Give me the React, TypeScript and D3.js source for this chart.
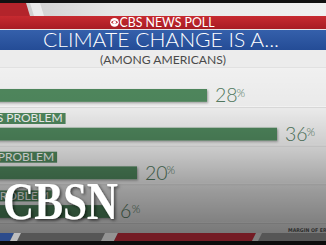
import React, { useLayoutEffect, useRef, useState } from "react";
import * as d3 from "d3";

const W = 326;
const H = 245;

const categories = ["CRISIS", "SERIOUS PROBLEM", "MINOR PROBLEM", "NOT A PROBLEM"];
const values = [28, 36, 20, 6];
const valueSuffix = "%";
const headerKicker = "CBS NEWS POLL";
const title = "CLIMATE CHANGE IS A...";
const subtitle = "(AMONG AMERICANS)";
const footnote = "MARGIN OF ERROR ±3 PTS";
const logoText = "CBSN";

export default function App() {
  const rowTop0 = 68.3;
  const rowStep = 38.7;
  const y = d3
    .scaleBand<number>()
    .domain(d3.range(categories.length))
    .range([rowTop0, rowTop0 + rowStep * categories.length])
    .paddingInner(0)
    .paddingOuter(0);

  // the broadcast graphic's bar lengths (non-uniform for the smallest bar)
  const x = d3.scaleLinear().domain([6, 20, 36]).range([112, 137, 277]);
  const barStart = -60;
  const labelStart = -46;

  const labelRefs = useRef<(SVGTextElement | null)[]>([]);
  const [labelW, setLabelW] = useState<number[]>(categories.map((c) => c.length * 7));
  useLayoutEffect(() => {
    const ws = labelRefs.current.map((el, i) =>
      el ? el.getComputedTextLength() : categories[i].length * 7
    );
    setLabelW(ws);
  }, []);

  const font = "Lato, 'Open Sans', sans-serif";

  return (
    <svg
      width={W}
      height={H}
      viewBox={`0 0 ${W} ${H}`}
      style={{ position: "absolute", left: 0, top: 0, display: "block" }}
    >
      <defs>
        <linearGradient id="topBand" x1="0" x2="1" y1="0" y2="0">
          <stop offset="0" stopColor="#c9c9c9" />
          <stop offset="0.35" stopColor="#e6e6e6" />
          <stop offset="1" stopColor="#f0f0f0" />
        </linearGradient>
        <linearGradient id="redBand" x1="0" x2="0" y1="0" y2="1">
          <stop offset="0" stopColor="#c72a30" />
          <stop offset="1" stopColor="#a81c24" />
        </linearGradient>
        <linearGradient id="blueBand" x1="0" x2="0" y1="0" y2="1">
          <stop offset="0" stopColor="#3560ab" />
          <stop offset="1" stopColor="#244c96" />
        </linearGradient>
        <linearGradient id="bodyShade" x1="0" x2="0" y1="0" y2="1">
          <stop offset="0" stopColor="#000" stopOpacity="0" />
          <stop offset="0.25" stopColor="#000" stopOpacity="0.03" />
          <stop offset="0.5" stopColor="#000" stopOpacity="0.17" />
          <stop offset="0.75" stopColor="#000" stopOpacity="0.36" />
          <stop offset="1" stopColor="#000" stopOpacity="0.5" />
        </linearGradient>
        <filter id="barShadow" x="-10%" y="-30%" width="120%" height="180%">
          <feDropShadow dx="1" dy="1.2" stdDeviation="0.9" floodColor="#000" floodOpacity="0.35" />
        </filter>
        <filter id="logoShadow" x="-10%" y="-20%" width="130%" height="150%">
          <feDropShadow dx="1.5" dy="1.5" stdDeviation="1.5" floodColor="#000" floodOpacity="0.6" />
        </filter>
      </defs>

      {/* top strip */}
      <rect x={0} y={0} width={W} height={3} fill="#111" />
      <rect x={0} y={3} width={W} height={13} fill="url(#topBand)" />
      <path d="M0,3 L26,3 L30,16 L0,16 Z" fill="#b3242b" />
      <path d="M30,3 L40,3 L44,16 L34,16 Z" fill="#f7f7f7" opacity={0.7} />

      {/* red kicker band */}
      <rect x={0} y={16} width={W} height={13} fill="url(#redBand)" />
      <rect x={0} y={29} width={W} height={1} fill="#e8e8e8" />
      <g transform="translate(114.5,22.3)">
        <circle r={4.4} fill="#fff" />
        <path d="M-3.6,0 Q0,-3.4 3.6,0 Q0,3.4 -3.6,0 Z" fill="#b9232a" />
        <circle r={1.6} fill="#fff" />
      </g>
      <text
        x={119.5}
        y={27.2}
        fill="#fff"
        fontFamily={font}
        fontSize={12.5}
        textLength={95}
        lengthAdjust="spacingAndGlyphs"
      >
        {headerKicker}
      </text>

      {/* blue title band */}
      <rect x={0} y={30} width={W} height={20} fill="url(#blueBand)" />
      <text
        x={161}
        y={47}
        fill="#fff"
        textAnchor="middle"
        fontFamily={font}
        fontWeight={300}
        fontSize={19.5}
        textLength={236}
        lengthAdjust="spacingAndGlyphs"
      >
        {title}
      </text>

      {/* subtitle band */}
      <rect x={0} y={50} width={W} height={18} fill="#ececec" />
      <text
        x={163}
        y={63.5}
        fill="#4a4a4a"
        textAnchor="middle"
        fontFamily={font}
        fontSize={11.5}
        textLength={126}
        lengthAdjust="spacingAndGlyphs"
      >
        {subtitle}
      </text>
      <rect x={0} y={67.5} width={W} height={0.8} fill="#d6d6d6" />

      {/* chart body */}
      <rect x={0} y={68.3} width={W} height={H - 68.3} fill="#f0f0f0" />

      {categories.map((c, i) => {
        const top = y(i) as number;
        const v = values[i];
        const end = x(v);
        const numX = end + 8;
        const digits = String(v).length;
        return (
          <g key={c}>
            <rect
              x={barStart}
              y={top + 20.7}
              width={end - barStart}
              height={12.8}
              fill="#4f875d"
              filter="url(#barShadow)"
            />
            <rect
              x={labelStart - 3}
              y={top + 6}
              width={labelW[i] + 6}
              height={11}
              fill="#4f875d"
            />
            <text
              ref={(el) => {
                labelRefs.current[i] = el;
              }}
              x={labelStart}
              y={top + 15.4}
              fill="#f4f4f4"
              fontFamily={font}
              fontSize={12}
            >
              {c}
            </text>
            <text
              x={numX}
              y={top + 33.8}
              fill="#527a60"
              fontFamily={font}
              fontWeight={300}
              fontSize={19.5}
            >
              {v}
            </text>
            <text
              x={numX + digits * 9.8 + 2}
              y={top + 28.5}
              fill="#527a60"
              fontFamily={font}
              fontWeight={300}
              fontSize={11}
            >
              {valueSuffix}
            </text>
            <rect x={0} y={top + rowStep - 1} width={W} height={1} fill="#ffffff" opacity={0.55} />
            <rect x={0} y={top + rowStep} width={W} height={0.8} fill="#000" opacity={0.1} />
          </g>
        );
      })}

      {/* overall darkening of the lower part */}
      <rect x={0} y={68.3} width={W} height={164.7} fill="url(#bodyShade)" />

      {/* footnote */}
      <text
        x={288}
        y={232}
        fill="#2e2e2e"
        fontFamily="'DejaVu Sans Condensed', 'DejaVu Sans', sans-serif"
        fontSize={5.2}
        fontWeight="bold"
      >
        {footnote}
      </text>

      {/* bottom stripe */}
      <rect x={0} y={233} width={W} height={8} fill="#565656" />
      <path d="M0,233 L14,233 L10,241 L0,241 Z" fill="#2d4c8c" />
      <path d="M14,233 L21,233 L17,241 L10,241 Z" fill="#d8d8d8" opacity={0.8} />
      <path d="M105,233 L118,233 L114,241 L101,241 Z" fill="#bdbdbd" opacity={0.6} />
      <path d="M118,233 L256,233 L252,241 L114,241 Z" fill="#741b24" />
      <path d="M256,233 L262,233 L258,241 L252,241 Z" fill="#9a9a9a" opacity={0.6} />
      <rect x={0} y={241} width={W} height={4} fill="#0c0c0c" />

      {/* channel logo */}
      <text
        x={3}
        y={219}
        fill="#fff"
        fontFamily="'Liberation Serif', 'DejaVu Serif', serif"
        fontWeight="bold"
        fontSize={52}
        textLength={115}
        lengthAdjust="spacingAndGlyphs"
        filter="url(#logoShadow)"
      >
        {logoText}
      </text>
    </svg>
  );
}
